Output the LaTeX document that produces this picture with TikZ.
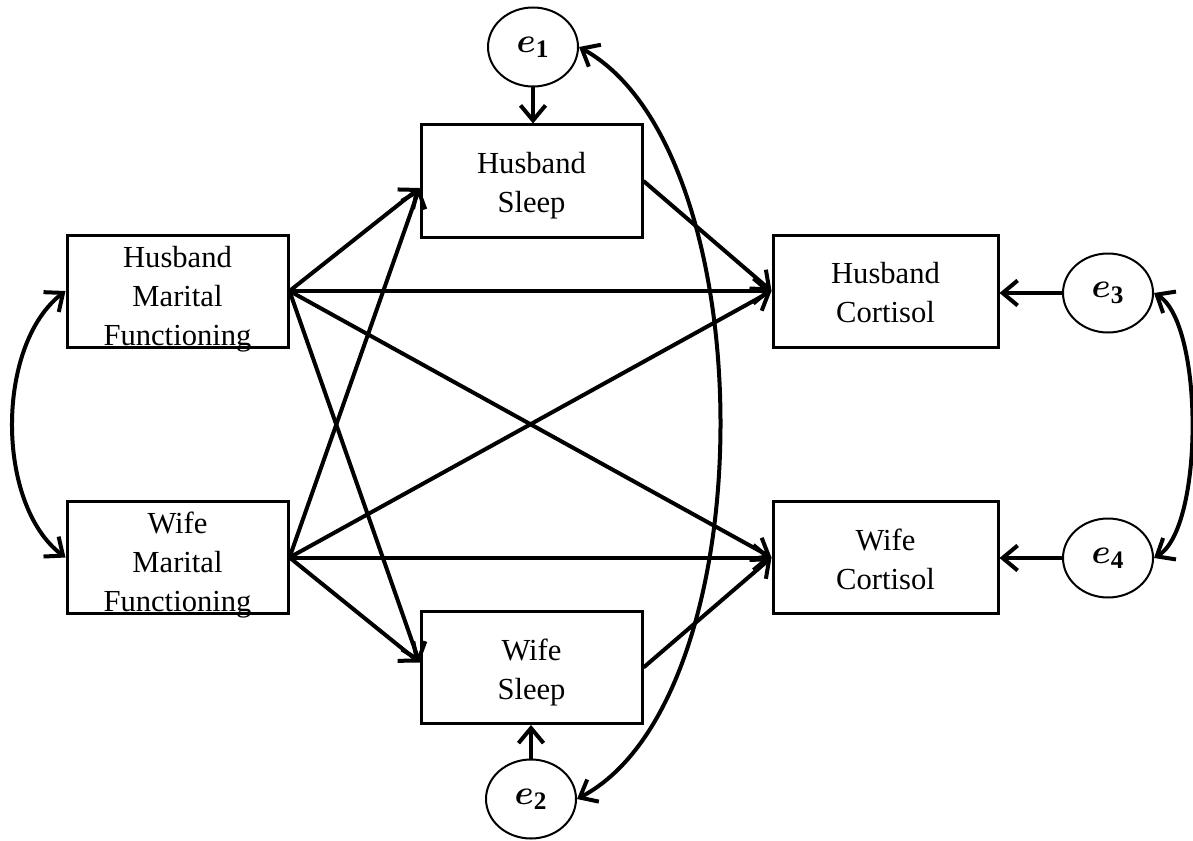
\documentclass[tikz,border=0pt]{standalone}
\usepackage{fontspec}
\setmainfont{Liberation Serif}
\usepackage{bm}
\usetikzlibrary{arrows.meta,shapes.geometric,calc}
\begin{document}
\begin{tikzpicture}[x=0.5pt,y=-0.5pt,
  box/.style={draw, line width=1.5pt, minimum width=110.5pt, minimum height=56pt,
    inner sep=0pt},
  rbox/.style={box, minimum width=112.5pt},
  txt/.style={inner sep=0pt, align=center, font=\fontsize{15.3}{19.5}\selectfont},
  err/.style={draw, ellipse, line width=1pt, minimum width=45pt, minimum height=39.5pt,
    inner sep=0pt, font=\fontsize{18}{20}\selectfont},
  tipa/.tip={Straight Barb[length=7.5pt,width=12.5pt]},
  arr/.style={line width=2pt, -tipa},
  darr/.style={line width=2pt, tipa-tipa}]
\useasboundingbox (0,0) rectangle (1193,840);

\node[box, label={[txt, yshift=-4pt]center:{Husband\\Marital\\Functioning}}] (HMF) at (177.5,291) {};
\node[box, label={[txt, yshift=-4pt]center:{Wife\\Marital\\Functioning}}] (WMF) at (177.5,557.5) {};
\node[box, label={[txt, yshift=-2.5pt]center:{Husband\\Sleep}}] (HS) at (531.5,181) {};
\node[box, label={[txt, yshift=-2.5pt]center:{Wife\\Sleep}}] (WS) at (531.5,667.5) {};
\node[rbox, label={[txt, yshift=-1pt]center:{Husband\\Cortisol}}] (HC) at (885.5,291) {};
\node[rbox, label={[txt, yshift=-1pt]center:{Wife\\Cortisol}}] (WC) at (885.5,557.5) {};

\node[err] (e1) at (533,47) {$\bm{e}_{\mathbf{1}}$};
\node[err] (e2) at (531,799) {$\bm{e}_{\mathbf{2}}$};
\node[err] (e3) at (1108,293) {$\bm{e}_{\mathbf{3}}$};
\node[err] (e4) at (1108,558) {$\bm{e}_{\mathbf{4}}$};

\coordinate (HSin) at ($(HS.west)+(0,7)$);
\coordinate (WSin) at ($(WS.west)+(0,-5)$);

\draw[arr] (HMF.east) -- (HSin);
\draw[arr] (WMF.east) -- (HSin);
\draw[arr] (HMF.east) -- (WSin);
\draw[arr] (WMF.east) -- (WSin);
\draw[arr] (HMF.east) -- (HC.west);
\draw[arr] (HMF.east) -- (WC.west);
\draw[arr] (WMF.east) -- (HC.west);
\draw[arr] (WMF.east) -- (WC.west);
\draw[arr] (HS.east) -- (HC.west);
\draw[arr] (WS.east) -- (WC.west);

\draw[arr] (e1.south) -- (e1.south |- HS.north);
\draw[arr] (e2.north) -- (e2.north |- WS.south);
\draw[arr] (e3.west) -- (e3.west -| HC.east);
\draw[arr] (e4.west) -- (e4.west -| WC.east);

\draw[darr] (HMF.west) .. controls +(-70,54) and +(-70,-53) .. (WMF.west);
\draw[darr] (e3.east) .. controls +(50,30) and +(50,-30) .. (e4.east);
\draw[darr] (e1.east) .. controls +(187,103) and +(190,-100) .. (e2.east);
\end{tikzpicture}
\end{document}
